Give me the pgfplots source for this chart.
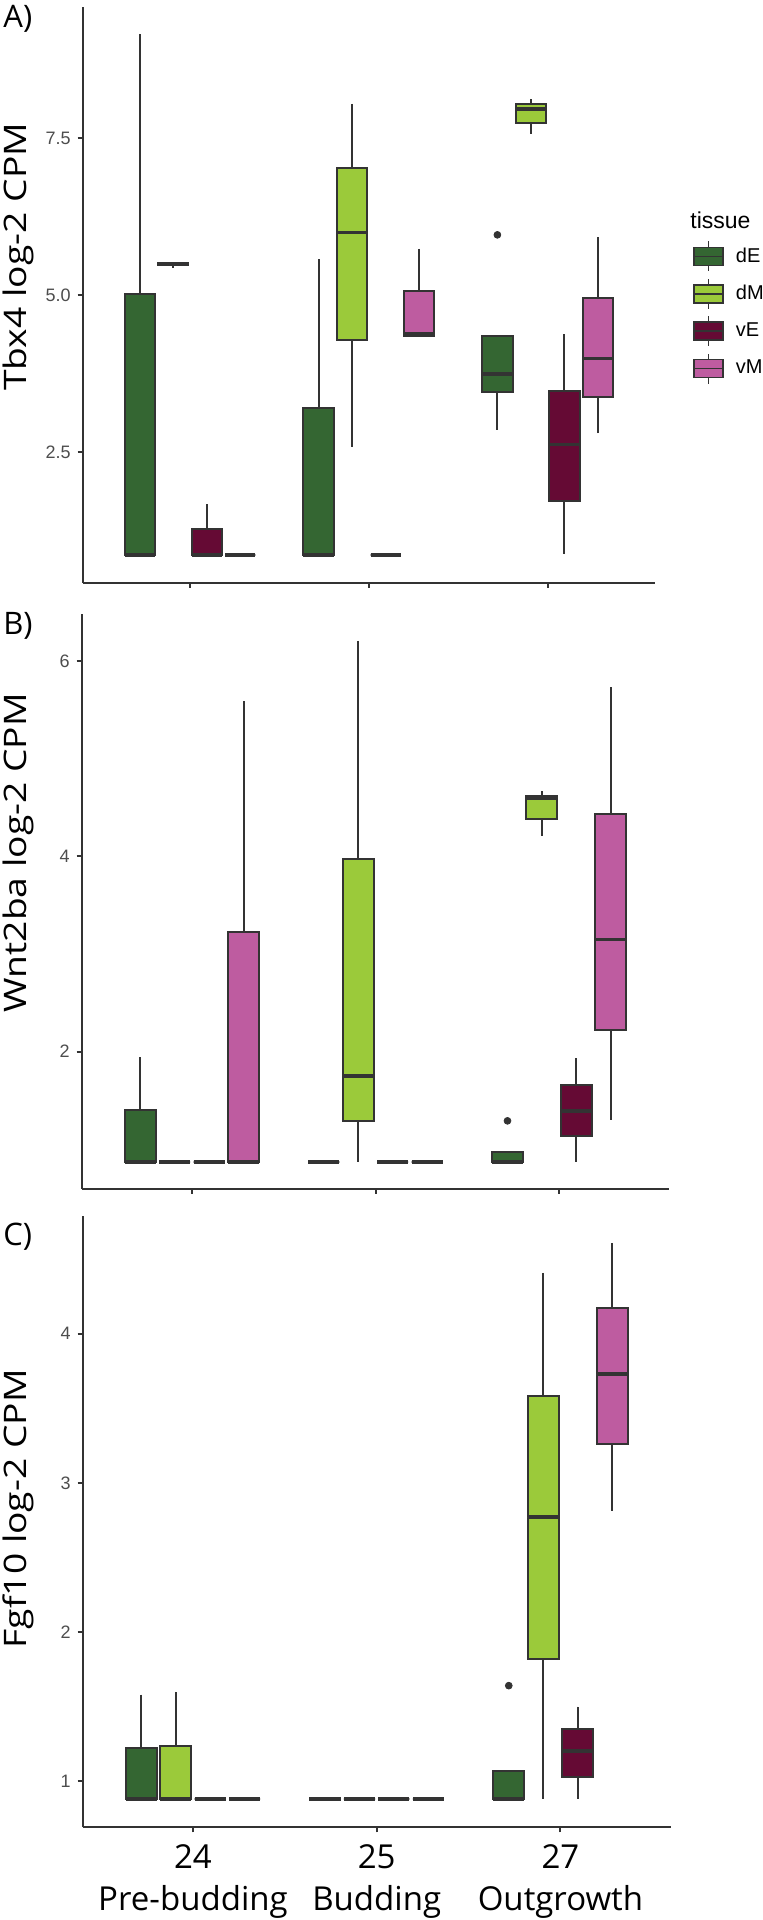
\documentclass[border=0pt]{standalone}
\usepackage{graphicx}
\usepackage{pgfplots}
\pgfplotsset{compat=1.18}
\usepgfplotslibrary{statistics}
\usepackage{fontspec}
\setmainfont{Open Sans}
\newfontfamily\arialf{Liberation Sans}

\definecolor{cdE}{RGB}{52,102,50}
\definecolor{cdM}{RGB}{155,202,58}
\definecolor{cvE}{RGB}{101,10,52}
\definecolor{cvM}{RGB}{190,92,160}
\definecolor{lin}{RGB}{51,51,51}
\definecolor{tickc}{RGB}{77,77,77}

% color, position, lower whisker, lower quartile, median, upper quartile, upper whisker, outliers
\newcommand{\bx}[8]{%
\addplot[boxplot prepared={draw direction=y, draw position=#2, lower whisker=#3, lower quartile=#4, median=#5, upper quartile=#6, upper whisker=#7, box extend=0.169, whisker extend=0},
  draw=lin, line width=1pt, fill=#1, solid, mark=*, mark size=1.7pt, mark options={fill=lin, draw=lin, line width=0.4pt}] coordinates {#8};}

\newcommand{\keyimg}[1]{\addlegendimage{legend image code/.code={
  \draw[fill=#1, draw=lin, line width=0.8pt] (0pt,-4.5pt) rectangle (14.6pt,4.5pt);
  \draw[draw=lin, line width=0.8pt] (0pt,0pt) -- (14.6pt,0pt);
  \draw[draw=lin, line width=0.8pt] (7.3pt,4.5pt) -- (7.3pt,7.5pt) (7.3pt,-4.5pt) -- (7.3pt,-7.5pt);
}}}

\pgfplotsset{
 common/.style={
  scale only axis,
  axis lines*=left,
  axis line style={line width=1pt, draw=lin},
  tick style={line width=1pt, draw=lin},
  major tick length=2.5pt,
  tick align=outside,
  xmin=0.4, xmax=3.6,
  xtick={1,2,3},
  yticklabel style={font=\arialf\fontsize{9}{10}\selectfont, text=tickc},
  ylabel style={font=\fontsize{15.5}{18}\selectfont, anchor=center},
  boxplot/draw direction=y,
  boxplot/every median/.style={line width=1.8pt},
  clip=false,
 },
}

\begin{document}
\begin{tikzpicture}
\useasboundingbox (0,0) rectangle (381pt,960pt);

% ---------------- Panel A ----------------
\begin{axis}[common,
  at={(41.35pt,668.6pt)}, anchor=south west,
  width=286.15pt, height=287.95pt,
  ymin=0.42, ymax=9.59,
  ytick={2.5,5,7.5}, yticklabels={2.5,5.0,7.5},
  xticklabels={,,},
  ylabel={\scalebox{1.2}[1]{Tbx4 log-2 CPM}},
  ylabel style={at={(axis description cs:-0.113,0.566)}},
  legend style={at={(1.066,0.595)}, anchor=north west, draw=none, fill=none,
     font=\arialf\fontsize{10}{11}\selectfont, row sep=2.9pt, column sep=6pt, inner sep=0pt,
     nodes={inner sep=0pt}},
  legend cell align=left,
]
\keyimg{cdE}\addlegendentry{dE}
\keyimg{cdM}\addlegendentry{dM}
\keyimg{cvE}\addlegendentry{vE}
\keyimg{cvM}\addlegendentry{vM}

\bx{cdE}{0.71875}{0.865}{0.865}{0.865}{5.02}{9.16}{}
\bx{cdM}{0.90625}{5.44}{5.48}{5.50}{5.51}{5.52}{}
\bx{cvE}{1.09375}{0.865}{0.865}{0.865}{1.27}{1.67}{}
\bx{cvM}{1.28125}{0.865}{0.865}{0.865}{0.865}{0.865}{}

\bx{cdE}{1.71875}{0.865}{0.865}{0.865}{3.20}{5.57}{}
\bx{cdM}{1.90625}{2.58}{4.28}{6.00}{7.03}{8.05}{}
\bx{cvE}{2.09375}{0.865}{0.865}{0.865}{0.865}{0.865}{}
\bx{cvM}{2.28125}{4.35}{4.35}{4.38}{5.07}{5.74}{}

\bx{cdE}{2.71875}{2.86}{3.45}{3.74}{4.35}{4.35}{(0,5.96)}
\bx{cdM}{2.90625}{7.57}{7.74}{7.96}{8.05}{8.13}{}
\bx{cvE}{3.09375}{0.875}{1.72}{2.62}{3.48}{4.38}{}
\bx{cvM}{3.28125}{2.80}{3.38}{3.99}{4.95}{5.92}{}

\node[anchor=base west, font=\arialf\fontsize{11.5}{13}\selectfont, inner sep=0pt] at (rel axis cs:1.0612,0.616) {tissue};
\end{axis}

% ---------------- Panel B ----------------
\begin{axis}[common,
  at={(40.85pt,365.7pt)}, anchor=south west,
  width=293.8pt, height=287.05pt,
  ymin=0.596, ymax=6.478,
  ytick={2,4,6}, yticklabels={2,4,6},
  xticklabels={,,},
  ylabel={\scalebox{1.2}[1]{Wnt2ba log-2 CPM}},
  ylabel style={at={(axis description cs:-0.108,0.585)}},
]
\bx{cdE}{0.71875}{0.866}{0.866}{0.866}{1.40}{1.94}{}
\bx{cdM}{0.90625}{0.866}{0.866}{0.866}{0.866}{0.866}{}
\bx{cvE}{1.09375}{0.866}{0.866}{0.866}{0.866}{0.866}{}
\bx{cvM}{1.28125}{0.866}{0.866}{0.866}{3.22}{5.59}{}

\bx{cdE}{1.71875}{0.866}{0.866}{0.866}{0.866}{0.866}{}
\bx{cdM}{1.90625}{0.866}{1.29}{1.75}{3.97}{6.21}{}
\bx{cvE}{2.09375}{0.866}{0.866}{0.866}{0.866}{0.866}{}
\bx{cvM}{2.28125}{0.866}{0.866}{0.866}{0.866}{0.866}{}

\bx{cdE}{2.71875}{0.866}{0.866}{0.866}{0.974}{0.974}{(0,1.29)}
\bx{cdM}{2.90625}{4.21}{4.38}{4.60}{4.62}{4.67}{}
\bx{cvE}{3.09375}{0.87}{1.13}{1.39}{1.66}{1.93}{}
\bx{cvM}{3.28125}{1.30}{2.22}{3.15}{4.43}{5.73}{}
\end{axis}

% ---------------- Panel C ----------------
\begin{axis}[common,
  at={(41.35pt,46.35pt)}, anchor=south west,
  width=294pt, height=305.65pt,
  ymin=0.69, ymax=4.79,
  ytick={1,2,3,4}, yticklabels={1,2,3,4},
  xticklabels={{24\\Pre-budding},{25\\Budding},{27\\Outgrowth}},
  xticklabel style={align=center, font=\fontsize{16.5}{21}\selectfont, text=black, yshift=-2.5pt},
  ylabel={\scalebox{1.2}[1]{Fgf10 log-2 CPM}},
  ylabel style={at={(axis description cs:-0.110,0.521)}},
]
\bx{cdE}{0.71875}{0.88}{0.88}{0.88}{1.225}{1.58}{}
\bx{cdM}{0.90625}{0.88}{0.88}{0.88}{1.234}{1.60}{}
\bx{cvE}{1.09375}{0.88}{0.88}{0.88}{0.88}{0.88}{}
\bx{cvM}{1.28125}{0.88}{0.88}{0.88}{0.88}{0.88}{}

\bx{cdE}{1.71875}{0.88}{0.88}{0.88}{0.88}{0.88}{}
\bx{cdM}{1.90625}{0.88}{0.88}{0.88}{0.88}{0.88}{}
\bx{cvE}{2.09375}{0.88}{0.88}{0.88}{0.88}{0.88}{}
\bx{cvM}{2.28125}{0.88}{0.88}{0.88}{0.88}{0.88}{}

\bx{cdE}{2.71875}{0.88}{0.88}{0.88}{1.065}{1.065}{(0,1.64)}
\bx{cdM}{2.90625}{0.88}{1.82}{2.77}{3.58}{4.41}{}
\bx{cvE}{3.09375}{0.88}{1.03}{1.20}{1.35}{1.50}{}
\bx{cvM}{3.28125}{2.81}{3.26}{3.73}{4.17}{4.61}{}
\end{axis}

% panel tags
\node[anchor=base west, font=\fontsize{15.5}{18}\selectfont, inner sep=0pt] at (1.5pt,946.2pt) {A)};
\node[anchor=base west, font=\fontsize{15.5}{18}\selectfont, inner sep=0pt] at (1.5pt,642.8pt) {B)};
\node[anchor=base west, font=\fontsize{15.5}{18}\selectfont, inner sep=0pt] at (1.5pt,337pt) {C)};
\end{tikzpicture}
\end{document}
